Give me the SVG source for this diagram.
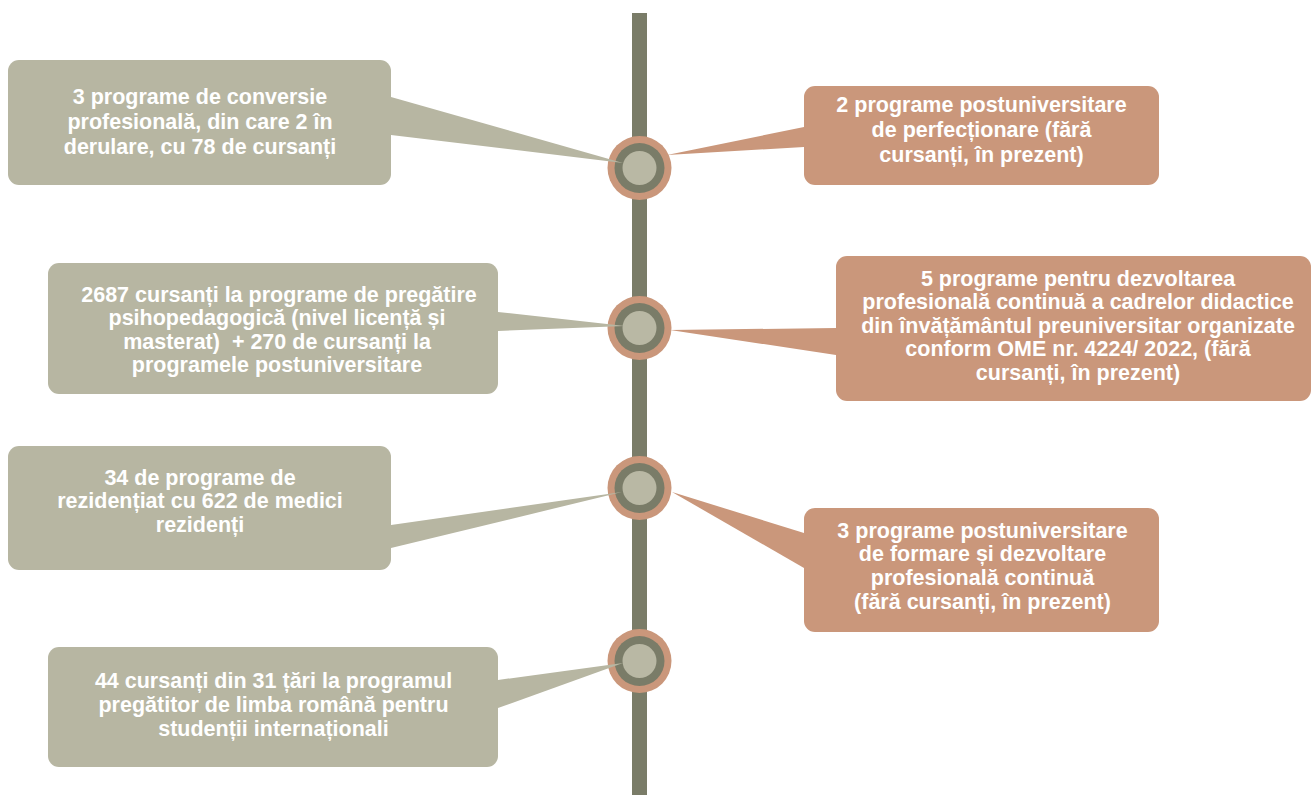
<svg xmlns="http://www.w3.org/2000/svg" width="1312" height="795" viewBox="0 0 1312 795">
<style>
.g{fill:#b7b6a2}
.o{fill:#ca977b}
.t{font-family:"Liberation Sans",Arial,sans-serif;font-weight:bold;font-size:21.5px;fill:#ffffff;text-anchor:middle}
.ring{fill:#ca977b}
.mid{fill:#7a7c68}
.in{fill:#b9b8a4}
</style>
<defs>
<g id="knot">
<circle r="32" class="ring"/>
<circle r="25" class="mid"/>
<circle r="17" class="in"/>
</g>
</defs>
<rect id="axis" x="632" y="13" width="15" height="782" fill="#7a7c68"/>
<g id="knots">
<use href="#knot" x="639.5" y="168"/>
<use href="#knot" x="639.5" y="328"/>
<use href="#knot" x="639.5" y="488"/>
<use href="#knot" x="639.5" y="661"/>
</g>
<g id="connectors">
<polygon class="g" points="391,97 391,135 623,163"/>
<polygon class="o" points="804,127 804,147 667,155"/>
<polygon class="g" points="498,312 498,331 625,326"/>
<polygon class="o" points="836,328 836,355 670,330"/>
<polygon class="g" points="391,525 391,548 622,492"/>
<polygon class="o" points="804,533 804,568 672,492"/>
<polygon class="g" points="498,680 498,708 623,663"/>
</g>
<g id="n1">
<rect class="g" x="8" y="60" width="383" height="125" rx="11"/>
<text class="t" x="200" y="104">3 programe de conversie</text>
<text class="t" x="200" y="129">profesională, din care 2 în</text>
<text class="t" x="200" y="154">derulare, cu 78 de cursanți</text>
</g>
<g id="n2">
<rect class="o" x="804" y="86" width="355" height="99" rx="11"/>
<text class="t" x="981.5" y="112">2 programe postuniversitare</text>
<text class="t" x="981.5" y="137">de perfecționare (fără</text>
<text class="t" x="981.5" y="162">cursanți, în prezent)</text>
</g>
<g id="n3">
<rect class="g" x="48" y="263" width="450" height="131" rx="11"/>
<text class="t" x="279" y="302">2687 cursanți la programe de pregătire</text>
<text class="t" x="277" y="325">psihopedagogică (nivel licență și</text>
<text class="t" x="277" y="349" xml:space="preserve">masterat)  + 270 de cursanți la</text>
<text class="t" x="277" y="372">programele postuniversitare</text>
</g>
<g id="n4">
<rect class="o" x="836" y="256" width="475" height="145" rx="11"/>
<text class="t" x="1078" y="286">5 programe pentru dezvoltarea</text>
<text class="t" x="1078" y="309">profesională continuă a cadrelor didactice</text>
<text class="t" x="1078" y="333">din învățământul preuniversitar organizate</text>
<text class="t" x="1078" y="356">conform OME nr. 4224/ 2022, (fără</text>
<text class="t" x="1078" y="380">cursanți, în prezent)</text>
</g>
<g id="n5">
<rect class="g" x="8" y="446" width="383" height="124" rx="11"/>
<text class="t" x="200" y="485">34 de programe de</text>
<text class="t" x="200" y="508">rezidențiat cu 622 de medici</text>
<text class="t" x="200" y="532">rezidenți</text>
</g>
<g id="n6">
<rect class="o" x="804" y="508" width="355" height="124" rx="11"/>
<text class="t" x="982.5" y="538">3 programe postuniversitare</text>
<text class="t" x="982.5" y="561">de formare și dezvoltare</text>
<text class="t" x="982.5" y="585">profesională continuă</text>
<text class="t" x="982.5" y="609">(fără cursanți, în prezent)</text>
</g>
<g id="n7">
<rect class="g" x="48" y="647" width="450" height="120" rx="11"/>
<text class="t" x="273.5" y="688">44 cursanți din 31 țări la programul</text>
<text class="t" x="273.5" y="712">pregătitor de limba română pentru</text>
<text class="t" x="273.5" y="736">studenții internaționali</text>
</g>
</svg>
